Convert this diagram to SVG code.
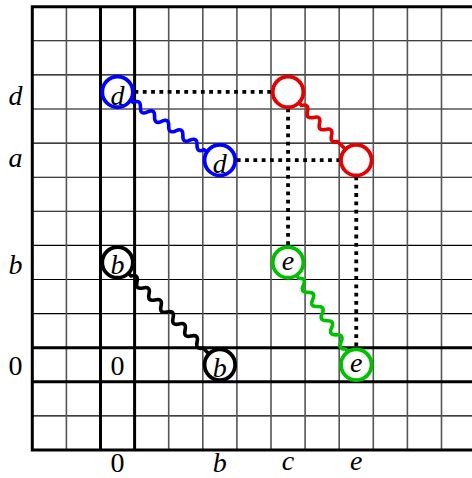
<svg xmlns="http://www.w3.org/2000/svg" width="472" height="478" viewBox="0 0 472 478">
<style>
.gh{stroke:#000;stroke-width:1.1;fill:none}
.gv{stroke:#555;stroke-width:1.6;fill:none}
.thick{stroke:#000;stroke-width:3;fill:none}
.dot{stroke:#000;stroke-width:3.8;stroke-dasharray:3.8 4.5;fill:none}
.wave{stroke-width:3.6;fill:none;stroke-linejoin:round}
.node{fill:#fff;stroke-width:3.8}
.t{font-family:"Liberation Serif","Times New Roman",serif;font-size:28px;font-style:italic;text-anchor:middle;fill:#000}
.n{font-style:normal}
</style>
<rect width="472" height="478" fill="#fff"/>
<g id="grid">
<path class="gh" d="M32.3 40.8H472M32.3 74.9H472M32.3 109H472M32.3 143.1H472M32.3 177.2H472M32.3 211.3H472M32.3 245.4H472M32.3 279.5H472M32.3 313.6H472M32.3 415.9H472"/>
<path class="gv" d="M66.4 6.7V450M168.7 6.7V450M202.8 6.7V450M236.9 6.7V450M271 6.7V450M305.1 6.7V450M339.2 6.7V450M373.3 6.7V450M407.4 6.7V450M441.5 6.7V450"/>
<path class="thick" d="M32.3 6.7H472M32.3 347.7H472M32.3 381.8H472M32.3 450H472M32.3 5.2V451.5M100.5 6.7V450M134.6 6.7V450"/>
</g>
<g id="axis-labels">
<text class="t" x="15.5" y="104.5">d</text>
<text class="t" x="15.5" y="166.5">a</text>
<text class="t" x="15.5" y="274">b</text>
<text class="t n" x="15.5" y="374.75">0</text>
<text class="t n" x="117.55" y="374.75">0</text>
<text class="t n" x="117.55" y="472">0</text>
<text class="t" x="219.85" y="472">b</text>
<text class="t" x="288.05" y="470">c</text>
<text class="t" x="356.25" y="470">e</text>
</g>
<g id="connectors">
<path class="dot" d="M134.5 91.95H271.5"/>
<path class="dot" d="M236.8 160.15H339.5"/>
<path class="dot" d="M288.05 108.5V245.5"/>
<path class="dot" d="M356.25 176.5V348"/>
<path class="wave" stroke="#0000ff" transform="translate(117.55 91.95) rotate(33.69)" d="M16 0H19q4.25 -7 8.5 0t8.5 0t8.5 0t8.5 0t8.5 0t8.5 0t8.5 0t8.5 0t8.5 0t8.5 0H106.95"/>
<path class="wave" stroke="#e60000" transform="translate(288.05 91.95) rotate(45)" d="M16 0H19q4.25 -7 8.5 0t8.5 0t8.5 0t8.5 0t8.5 0t8.5 0H80.45"/>
<path class="wave" stroke="#000" transform="translate(117.55 262.45) rotate(45)" d="M16 0H19q4.25 -7 8.5 0t8.5 0t8.5 0t8.5 0t8.5 0t8.5 0t8.5 0t8.5 0t8.5 0t8.5 0t8.5 0t8.5 0H128.67"/>
<path class="wave" stroke="#00c000" transform="translate(288.05 262.45) rotate(56.31)" d="M16 0H19q4.25 -7 8.5 0t8.5 0t8.5 0t8.5 0t8.5 0t8.5 0t8.5 0t8.5 0t8.5 0t8.5 0H106.95"/>
</g>
<g id="node-d1"><circle class="node" stroke="#0000ff" cx="117.55" cy="91.95" r="15.3"/><text class="t" x="117.55" y="105">d</text></g>
<g id="node-d2"><circle class="node" stroke="#0000ff" cx="219.85" cy="160.15" r="15.3"/><text class="t" x="219.85" y="173">d</text></g>
<g id="node-r1"><circle class="node" stroke="#e60000" cx="288.05" cy="91.95" r="15.3"/></g>
<g id="node-r2"><circle class="node" stroke="#e60000" cx="356.25" cy="160.15" r="15.3"/></g>
<g id="node-b1"><circle class="node" stroke="#000" cx="117.55" cy="262.45" r="15.3"/><text class="t" x="117.55" y="274">b</text></g>
<g id="node-b2"><circle class="node" stroke="#000" cx="219.85" cy="364.75" r="15.3"/><text class="t" x="219.85" y="376.5">b</text></g>
<g id="node-e1"><circle class="node" stroke="#00c000" cx="288.05" cy="262.45" r="15.3"/><text class="t" x="288.05" y="269.5">e</text></g>
<g id="node-e2"><circle class="node" stroke="#00c000" cx="356.25" cy="364.75" r="15.3"/><text class="t" x="356.25" y="371.5">e</text></g>
</svg>
